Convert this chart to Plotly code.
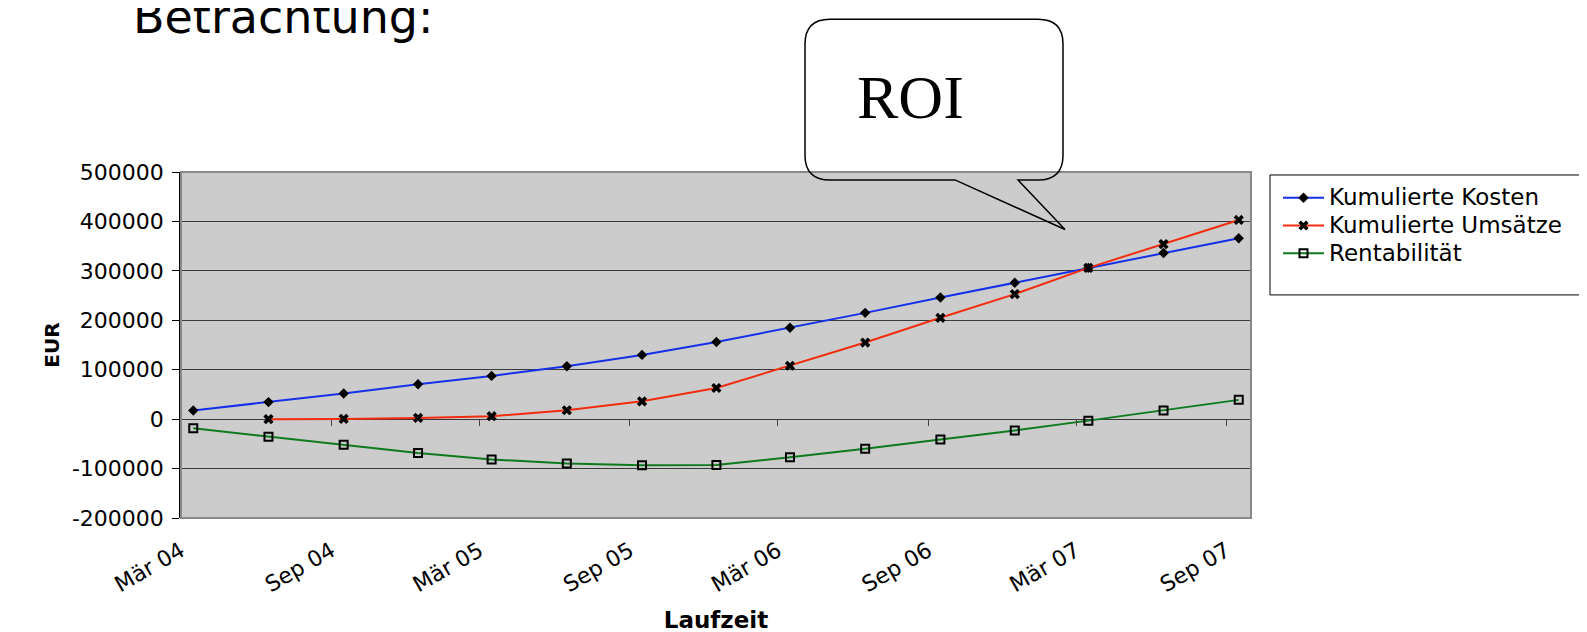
import plotly.graph_objects as go
import pandas as pd

# ---- data ----
months = ["2004-03", "2004-06", "2004-09", "2004-12", "2005-03", "2005-06", "2005-09",
          "2005-12", "2006-03", "2006-06", "2006-09", "2006-12", "2007-03", "2007-06", "2007-09"]
kosten = [17500, 34500, 52000, 70500, 87500, 107000, 130000, 156000, 185000, 215000,
          246000, 276000, 306000, 336000, 366000]
umsaetze = [None, 0, 500, 2500, 6000, 18000, 36000, 63000, 108000, 155000,
            205000, 253000, 306000, 354000, 403000]
rentabilitaet = [-18500, -35500, -52000, -68500, -81500, -89500, -93500, -93000, -77000,
                 -60000, -41000, -23000, -3000, 17500, 39000]
series_names = ["Kumulierte Kosten", "Kumulierte Umsätze", "Rentabilität"]
x_tick_dates = ["2004-03-01", "2004-09-01", "2005-03-01", "2005-09-01", "2006-03-01",
                "2006-09-01", "2007-03-01", "2007-09-01"]
x_tick_labels = ["Mär 04", "Sep 04", "Mär 05", "Sep 05", "Mär 06", "Sep 06", "Mär 07", "Sep 07"]
y_ticks = [-200000, -100000, 0, 100000, 200000, 300000, 400000, 500000]
y_tick_labels = ["-200000", "-100000", "0", "100000", "200000", "300000", "400000", "500000"]

x_dates = pd.to_datetime(months) + pd.Timedelta(days=15)
x_range = ["2004-03-01", "2007-10-01"]

W, H = 1587, 632
L, R, T, B = 173, 1243, 164, 513


def px(x):
    return (x - L) / (R - L)


def py(y):
    return (B - y) / (B - T)


FONT = "DejaVu Sans"


def legend_name(s):
    return f'<span style="font-size:23px">{s}</span>'


fig = go.Figure()
fig.add_trace(go.Scatter(
    x=x_dates, y=kosten, name=legend_name(series_names[0]), mode="lines+markers",
    line=dict(color="#1530E8", width=2),
    marker=dict(symbol="diamond", size=8, color="#000000"),
))
fig.add_trace(go.Scatter(
    x=x_dates, y=umsaetze, name=legend_name(series_names[1]), mode="lines+markers",
    line=dict(color="#F22C0E", width=2),
    marker=dict(symbol="x", size=9, color="#000000"),
))
fig.add_trace(go.Scatter(
    x=x_dates, y=rentabilitaet, name=legend_name(series_names[2]), mode="lines+markers",
    line=dict(color="#0E7A1E", width=2),
    marker=dict(symbol="square-open", size=8, color="#000000", line=dict(width=2, color="#000000")),
))
# invisible helper trace for the tick axis at y=0
fig.add_trace(go.Scatter(
    x=x_dates, y=kosten, xaxis="x2", mode="lines", opacity=0, showlegend=False,
    hoverinfo="skip", line=dict(width=0),
))

fig.update_layout(
    width=W, height=H,
    margin=dict(l=L, r=W - R, t=T, b=H - B, pad=0),
    paper_bgcolor="white",
    plot_bgcolor="#CCCCCC",
    font=dict(family=FONT, size=21, color="#000000"),
    showlegend=True,
    legend=dict(
        x=px(1270), y=py(171), xanchor="left", yanchor="top",
        borderwidth=0, bgcolor="rgba(0,0,0,0)",
        font=dict(family=FONT, size=19), tracegroupgap=0, itemwidth=41,
    ),
    xaxis=dict(
        type="date", range=x_range, showgrid=False, zeroline=False, showline=False,
        ticks="", tickmode="array", tickvals=x_tick_dates, ticktext=x_tick_labels,
        tickangle=-30, tickfont=dict(family=FONT, size=22), ticklabelstandoff=15,
        title=dict(text="<b>Laufzeit</b>", font=dict(family=FONT, size=23), standoff=15),
    ),
    xaxis2=dict(
        type="date", range=x_range, overlaying="x", anchor="free", position=py(413),
        showgrid=False, zeroline=False, showline=False, showticklabels=False,
        ticks="outside", ticklen=6, tickwidth=1, tickcolor="#444444",
        tickmode="array", tickvals=x_tick_dates[1:],
    ),
    yaxis=dict(
        range=[-200000, 500000], tickmode="array", tickvals=y_ticks, ticktext=y_tick_labels,
        showgrid=True, gridcolor="#3A3A3A", gridwidth=1, zeroline=False,
        showline=True, linecolor="#000000", linewidth=1.5,
        ticks="outside", ticklen=7, tickcolor="#000000",
        tickfont=dict(family=FONT, size=22), ticklabelstandoff=4,
        title=dict(text="<b>EUR</b>", font=dict(family=FONT, size=20), standoff=7),
    ),
)

# plot area border (gray)
fig.add_shape(type="rect", xref="paper", yref="paper", x0=0, y0=0, x1=1, y1=1,
              line=dict(color="#888888", width=2), layer="above")

# legend frame (extends past the right edge like the original)
fig.add_shape(type="rect", xref="paper", yref="paper",
              x0=px(1262), y0=py(288), x1=px(1600), y1=py(167),
              line=dict(color="#000000", width=1), fillcolor="rgba(0,0,0,0)", layer="above")

# speech-bubble callout
x0, x1, y0, y1, r = 797, 1055, 10, 172, 25
ta, tb, tipx, tipy = 947, 1010, 1057, 222
pts = [
    ("M", [(x0 + r, y0)]),
    ("L", [(x1 - r, y0)]),
    ("Q", [(x1, y0), (x1, y0 + r)]),
    ("L", [(x1, y1 - r)]),
    ("Q", [(x1, y1), (x1 - r, y1)]),
    ("L", [(tb, y1)]),
    ("L", [(tipx, tipy)]),
    ("L", [(ta, y1)]),
    ("L", [(x0 + r, y1)]),
    ("Q", [(x0, y1), (x0, y1 - r)]),
    ("L", [(x0, y0 + r)]),
    ("Q", [(x0, y0), (x0 + r, y0)]),
]
path = ""
for cmd, coords in pts:
    path += cmd + " " + " ".join(f"{px(a):.5f},{py(b):.5f}" for a, b in coords) + " "
path += "Z"
fig.add_shape(type="path", xref="paper", yref="paper", path=path,
              line=dict(color="#000000", width=1.5), fillcolor="rgba(0,0,0,0)", layer="above")

fig.add_annotation(text="ROI", xref="paper", yref="paper", x=px(902), y=py(88),
                   xanchor="center", yanchor="middle", showarrow=False,
                   font=dict(family="Liberation Serif", size=62, color="#000000"))

fig.add_annotation(text="Betrachtung:", xref="paper", yref="paper", x=px(123), y=py(37),
                   xanchor="left", yanchor="bottom", showarrow=False,
                   font=dict(family=FONT, size=46, color="#000000"))

fig.write_html("out.html")
